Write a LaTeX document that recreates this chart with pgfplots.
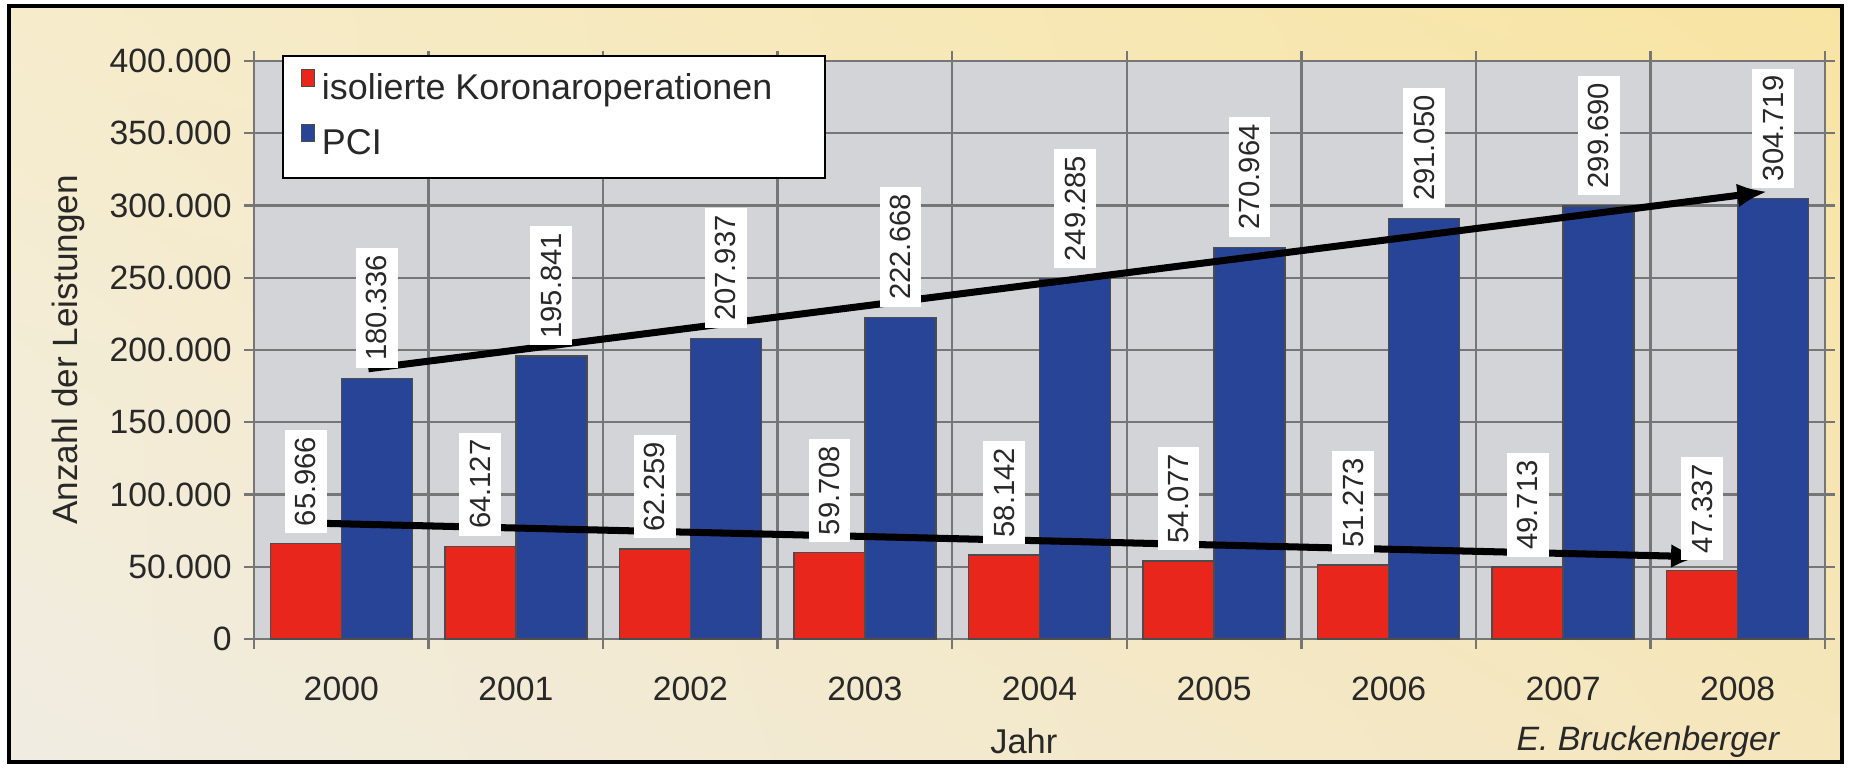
\documentclass[border=0pt]{standalone}
\usepackage{pgfplots}
\pgfplotsset{compat=1.18}
\usepackage{fontspec}
\setmainfont{Liberation Sans}
\usetikzlibrary{arrows.meta,shadings}
\definecolor{barred}{RGB}{232,38,28}
\definecolor{barblue}{RGB}{40,68,150}
\definecolor{plotgray}{RGB}{210,212,215}
\definecolor{gridgray}{RGB}{118,118,118}
\definecolor{bgUL}{RGB}{246,236,204}
\definecolor{bgUR}{RGB}{248,228,162}
\definecolor{bgLL}{RGB}{240,236,226}
\definecolor{bgLR}{RGB}{245,230,188}
\definecolor{txt}{RGB}{40,40,40}
\begin{document}
\begin{tikzpicture}
\path[fill=white] (0,0) rectangle (18.52,7.70);
\shade[upper left=bgUL, upper right=bgUR, lower left=bgLL, lower right=bgLR] (0.09,0.08) rectangle (18.42,7.64);
\draw[line width=1pt] (0.09,0.08) rectangle (18.42,7.64);
\begin{axis}[
  at={(2.54cm,1.31cm)}, anchor=south west,
  width=15.71cm, height=5.78cm, scale only axis,
  xmin=-0.5, xmax=8.5, ymin=0, ymax=400000,
  ybar=0pt, bar width=0.71cm,
  clip=false,
  axis background/.style={fill=plotgray},
  axis line style={gridgray, line width=0.7pt},
  xtick={-0.5,0.5,...,8.5}, xticklabels={,,,,,,,,,,},
  extra x ticks={0,1,2,3,4,5,6,7,8},
  extra x tick labels={2000,2001,2002,2003,2004,2005,2006,2007,2008},
  extra x tick style={major tick length=0pt, grid=none,
     xticklabel style={anchor=center, yshift=-0.50cm}},
  ytick={0,50000,...,400000},
  xmajorgrids, ymajorgrids,
  grid style={gridgray, line width=0.7pt},
  tick align=outside, major tick length=0.1cm,
  tick style={gridgray, line width=0.7pt},
  scaled y ticks=false,
  tick label style={font=\fontsize{9.6}{11}\selectfont, text=txt},
  xlabel={Jahr},
  xlabel style={at={(axis description cs:0.490,-0.176)}, anchor=center, font=\fontsize{9.8}{11}\selectfont, text=txt},
  ylabel={Anzahl der Leistungen},
  ylabel style={at={(axis description cs:-0.118,0.5)}, anchor=center, font=\fontsize{10}{12}\selectfont, text=txt},
  legend style={at={(0.018,1.010)}, anchor=north west, draw=black, line width=0.6pt,
     fill=white, font=\fontsize{10.2}{12}\selectfont, text=txt,
     inner xsep=5pt, inner ysep=3pt, row sep=3pt},
  legend cell align=left,
  legend image code/.code={\draw[#1, draw=black!70, line width=0.3pt] (0cm,0.03cm) rectangle (0.13cm,0.20cm);},
  nodes near coords,
  point meta=explicit symbolic,
  every node near coord/.append style={rotate=90, anchor=west, fill=white,
     font=\fontsize{8.3}{10}\selectfont, text=txt, inner xsep=2pt, inner ysep=3pt, outer sep=3pt},
  /pgf/number format/1000 sep={.},
  /pgf/number format/fixed,
  /pgf/number format/assume math mode=true,
]
\addplot[fill=barred, draw=black!70, line width=0.4pt] coordinates {
  (0,65966) [65.966] (1,64127) [64.127] (2,62259) [62.259] (3,59708) [59.708]
  (4,58142) [58.142] (5,54077) [54.077] (6,51273) [51.273] (7,49713) [49.713]
  (8,47337) [47.337]};
\addplot[fill=barblue, draw=black!70, line width=0.4pt] coordinates {
  (0,180336) [180.336] (1,195841) [195.841] (2,207937) [207.937] (3,222668) [222.668]
  (4,249285) [249.285] (5,270964) [270.964] (6,291050) [291.050] (7,299690) [299.690]
  (8,304719) [304.719]};
\legend{\makebox[4.78cm][l]{isolierte Koronaroperationen}, PCI}
\draw[line width=2pt, -{Latex[length=0.30cm,width=0.24cm]}] (axis cs:-0.19,80300) -- (axis cs:7.79,56900);
\draw[line width=2pt, -{Latex[length=0.30cm,width=0.24cm]}] (axis cs:0.155,187000) -- (axis cs:8.17,309600);
\node[font=\fontsize{9.6}{11}\selectfont\itshape, text=txt, anchor=east, inner xsep=0pt] at (axis description cs:0.9713,-0.177) {E. Bruckenberger};
\end{axis}
\end{tikzpicture}
\end{document}
